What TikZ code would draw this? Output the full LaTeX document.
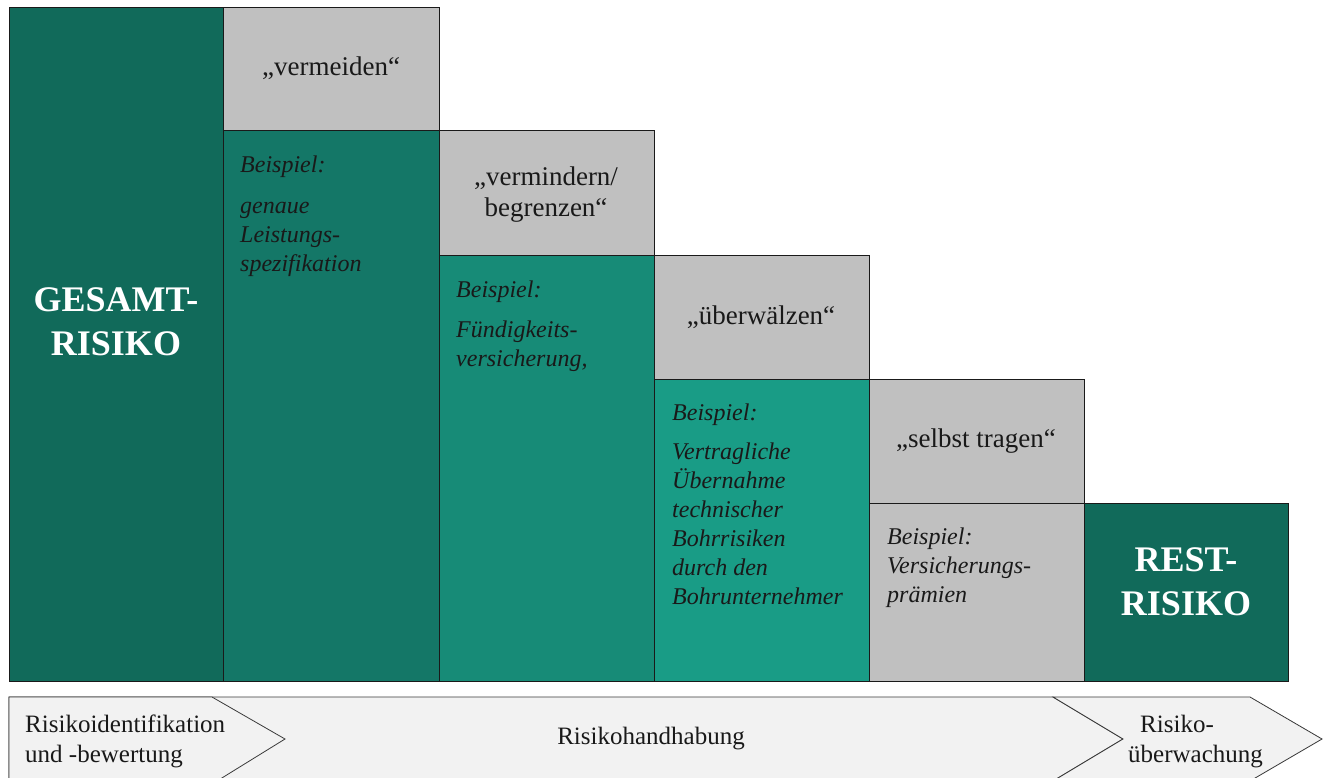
\documentclass[tikz,border=0pt]{standalone}
\usepackage{fontspec}
\setmainfont{Liberation Serif}
\definecolor{tealA}{HTML}{116A5A}
\definecolor{tealB}{HTML}{147767}
\definecolor{tealC}{HTML}{178B77}
\definecolor{tealD}{HTML}{199C86}
\definecolor{greyBox}{HTML}{C0C0C0}
\definecolor{edge}{HTML}{1A1A1A}
\definecolor{barFill}{HTML}{F2F2F2}
\definecolor{barEdge}{HTML}{3A3A3A}
\begin{document}
\begin{tikzpicture}[x=1pt,y=-1pt,
  blk/.style={rectangle,draw=edge,line width=0.8pt,inner sep=0pt,outer sep=0pt,anchor=north west},
  big/.style={font=\fontsize{36}{44}\selectfont\bfseries,text=white,align=center,inner sep=0pt},
  lbl/.style={font=\fontsize{27}{31}\selectfont,text=black!90,align=center,inner sep=0pt},
  ex/.style={font=\fontsize{24}{29}\selectfont\itshape,text=black!90,align=left,inner sep=0pt,anchor=north west},
  bot/.style={font=\fontsize{25}{30}\selectfont,text=black!90,inner sep=0pt},
  bar/.style={fill=barFill,draw=barEdge,line width=0.8pt,line join=miter}]
\useasboundingbox (0,0) rectangle (1325,778);

% staircase of risk blocks
\node[blk,fill=tealA,minimum width=214pt,minimum height=674pt] (gesamtbox) at (9,7) {};
\node[blk,fill=greyBox,minimum width=216pt,minimum height=123pt] (g1) at (223,7) {};
\node[blk,fill=tealB,minimum width=216pt,minimum height=551pt] (t1) at (223,130) {};
\node[blk,fill=greyBox,minimum width=215pt,minimum height=125pt] (g2) at (439,130) {};
\node[blk,fill=tealC,minimum width=215pt,minimum height=426pt] (t2) at (439,255) {};
\node[blk,fill=greyBox,minimum width=215pt,minimum height=124pt] (g3) at (654,255) {};
\node[blk,fill=tealD,minimum width=215pt,minimum height=302pt] (t3) at (654,379) {};
\node[blk,fill=greyBox,minimum width=215pt,minimum height=124pt] (g4) at (869,379) {};
\node[blk,fill=greyBox,minimum width=215pt,minimum height=178pt] (t4) at (869,503) {};
\node[blk,fill=tealA,minimum width=204pt,minimum height=178pt] (restbox) at (1084,503) {};

% block texts
\node[big] (gesamt) at (116,322) {GESAMT-\\RISIKO};
\node[big] (rest) at (1186,582) {REST-\\RISIKO};

\node[lbl] (vermeiden) at (331,68) {„vermeiden“};
\node[lbl] (vermindern) at (546,195) {„vermindern/\\begrenzen“};
\node[lbl] (ueberwaelzen) at (761,317) {„überwälzen“};
\node[lbl] (selbst) at (976,441) {„selbst tragen“};

\node[ex] (ex1) at (240,156) {Beispiel:\\[12pt]genaue\\Leistungs-\\spezifikation};
\node[ex] (ex2) at (456,281) {Beispiel:\\[11pt]Fündigkeits-\\versicherung,};
\node[ex] (ex3) at (672,404) {Beispiel:\\[10pt]Vertragliche\\Übernahme\\technischer\\Bohrrisiken\\durch den\\Bohrunternehmer};
\node[ex] (ex4) at (887,528) {Beispiel:\\Versicherungs-\\prämien};

% process chevrons along the bottom
\draw[bar] (9,697) -- (1053,697) -- (1123,739) -- (1053,781) -- (9,781) -- cycle;
\draw[bar] (9,697) -- (212,697) -- (285,739) -- (217,781) -- (9,781) -- cycle;
\draw[bar] (1053,697) -- (1250,697) -- (1322,739) -- (1250,781) -- (1053,781) -- (1123,739) -- cycle;

\node[bot,align=left,anchor=north west] (ident) at (25,715) {Risikoidentifikation\\und -bewertung};
\node[bot] (handhabung) at (651,739) {Risikohandhabung};
\node[bot,align=left,anchor=north west] (ueberw) at (1128,715) {\hspace*{12pt}Risiko-\\überwachung};
\end{tikzpicture}
\end{document}
